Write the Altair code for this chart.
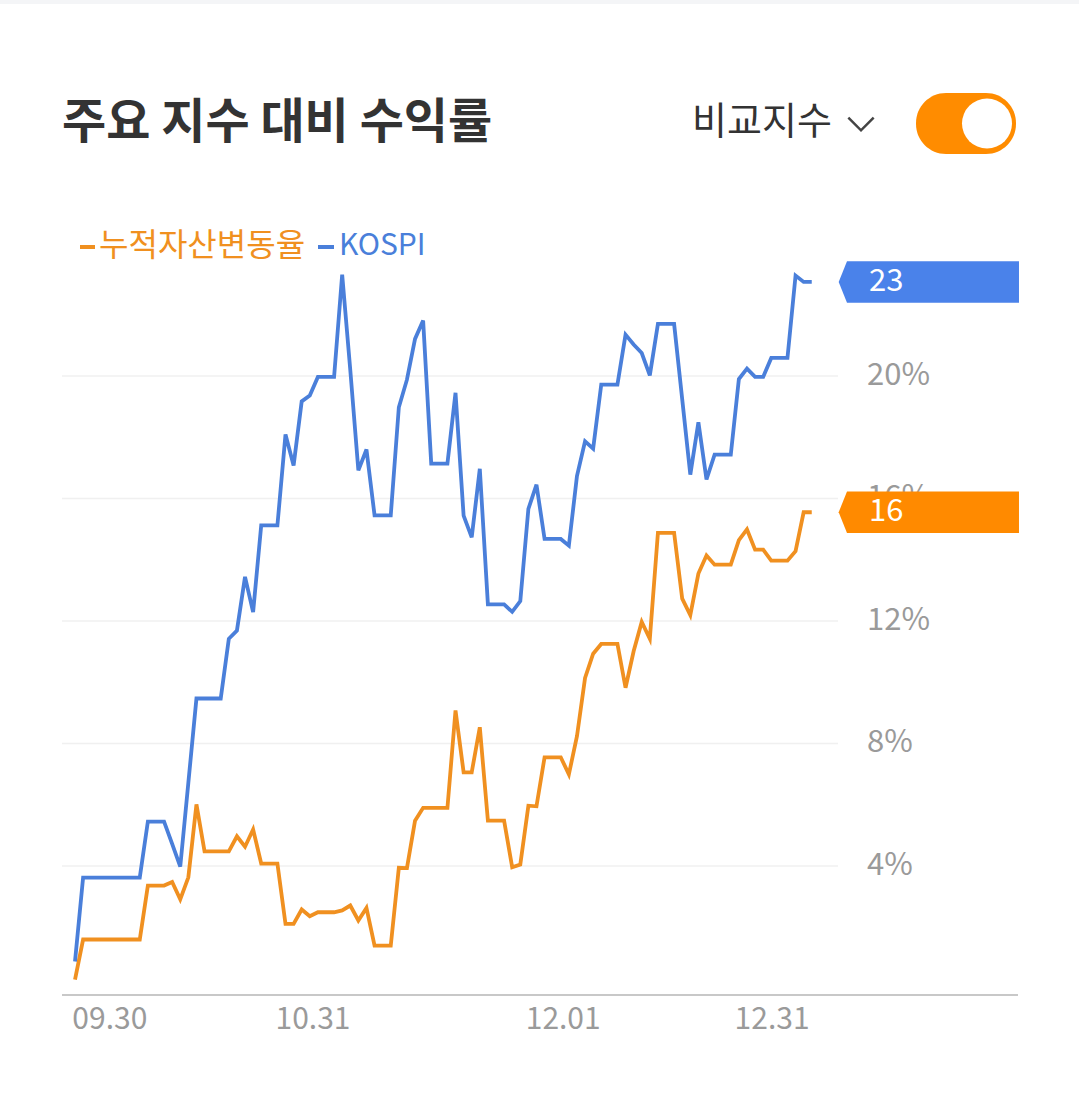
import altair as alt
import pandas as pd

# ---- data -------------------------------------------------------------
DAY = list(range(92))

ASSET = [
    0.29, 1.60, 1.60, 1.60, 1.60, 1.60, 1.60, 1.60, 1.60, 3.36,
    3.36, 3.36, 3.48, 2.91, 3.63, 6.01, 4.48, 4.48, 4.48, 4.48,
    4.97, 4.63, 5.19, 4.08, 4.08, 4.08, 2.11, 2.11, 2.58, 2.36,
    2.49, 2.49, 2.49, 2.55, 2.71, 2.22, 2.63, 1.40, 1.40, 1.40,
    3.94, 3.93, 5.48, 5.90, 5.90, 5.90, 5.90, 9.08, 7.06, 7.06,
    8.53, 5.48, 5.48, 5.48, 3.96, 4.05, 5.97, 5.95, 7.55, 7.55,
    7.55, 6.99, 8.24, 10.14, 10.93, 11.25, 11.25, 11.25, 9.82, 11.01,
    11.97, 11.42, 14.88, 14.88, 14.88, 12.73, 12.19, 13.55, 14.14, 13.84,
    13.84, 13.84, 14.64, 14.99, 14.33, 14.33, 13.97, 13.97, 13.97, 14.28,
    15.55, 15.55,
]

KOSPI = [
    0.88, 3.62, 3.62, 3.62, 3.62, 3.62, 3.62, 3.62, 3.62, 5.45,
    5.45, 5.45, 4.72, 3.98, 6.72, 9.47, 9.47, 9.47, 9.47, 11.42,
    11.69, 13.44, 12.29, 15.12, 15.12, 15.12, 18.09, 17.08, 19.17, 19.36,
    19.97, 19.97, 19.97, 23.31, 20.20, 16.92, 17.60, 15.45, 15.45, 15.45,
    18.98, 19.88, 21.21, 21.81, 17.14, 17.14, 17.14, 19.45, 15.44, 14.73,
    16.97, 12.54, 12.54, 12.54, 12.30, 12.65, 15.66, 16.45, 14.68, 14.68,
    14.68, 14.46, 16.73, 17.87, 17.63, 19.72, 19.72, 19.72, 21.35, 21.03,
    20.75, 20.02, 21.70, 21.70, 21.70, 19.24, 16.78, 18.49, 16.62, 17.43,
    17.43, 17.43, 19.90, 20.24, 19.97, 19.97, 20.59, 20.59, 20.59, 23.28,
    23.07, 23.07,
]

SERIES = ["누적자산변동율", "KOSPI"]
Y_TICKS = [4, 8, 12, 16, 20]
X_TICK_POS = [4.3, 29.4, 60.3, 86.1]
X_TICK_LABELS = ["09.30", "10.31", "12.01", "12.31"]

# ---- styling ------------------------------------------------------------
W, H = 1079, 1102
FONT = "Noto Sans CJK KR"
LINE_COLORS = ["#F09020", "#4A7FDA"]
TAG_COLORS = ["#FF8A00", "#4A82EA"]
GRAY = "#9A9A9A"
DARK = "#333333"

x_scale = alt.Scale(domain=[-9.264, 124.01], nice=False, zero=False)
y_scale = alt.Scale(domain=[-3.706, 32.277], nice=False, zero=False)

one = pd.DataFrame({"k": [0]})

lines_df = pd.DataFrame({
    "day": DAY * 2,
    "value": ASSET + KOSPI,
    "series": [SERIES[0]] * len(ASSET) + [SERIES[1]] * len(KOSPI),
})
last_df = pd.DataFrame({"series": SERIES, "value": [ASSET[-1], KOSPI[-1]]})
ytick_df = pd.DataFrame({"tick": Y_TICKS})
xtick_df = pd.DataFrame({"pos": X_TICK_POS, "label": X_TICK_LABELS})

# header strip
strip = alt.Chart(one).mark_rect(color="#F4F5F7").encode(
    x=alt.value(0), x2=alt.value(W), y=alt.value(0), y2=alt.value(4)
)

# title and compare-index selector
title = alt.Chart(one).mark_text(
    text="주요 지수 대비 수익률", font=FONT, fontSize=48, fontWeight="bold",
    color=DARK, align="left", baseline="middle"
).encode(x=alt.value(62), y=alt.value(124))

selector = alt.Chart(one).mark_text(
    text="비교지수", font=FONT, fontSize=38, color=DARK,
    align="left", baseline="middle"
).encode(x=alt.value(692), y=alt.value(123))

chevron = alt.Chart(one).mark_point(
    shape="M -1 -0.5 L 0 0.5 L 1 -0.5", size=640, filled=False,
    stroke="#444444", strokeWidth=2.5, opacity=1
).encode(x=alt.value(861), y=alt.value(124))

toggle = alt.Chart(one).mark_rect(color="#FF8C00", cornerRadius=30).encode(
    x=alt.value(916), x2=alt.value(1016), y=alt.value(93), y2=alt.value(154)
)
knob = alt.Chart(one).mark_point(
    shape="circle", size=2500, filled=True, color="white", opacity=1
).encode(x=alt.value(987), y=alt.value(123.5))

# legend
leg_o_dash = alt.Chart(one).mark_rule(color=LINE_COLORS[0], strokeWidth=4).encode(
    x=alt.value(80), x2=alt.value(95), y=alt.value(247)
)
leg_o_text = alt.Chart(one).mark_text(
    text=SERIES[0], font=FONT, fontSize=32, color=LINE_COLORS[0],
    align="left", baseline="middle"
).encode(x=alt.value(99), y=alt.value(246))
leg_b_dash = alt.Chart(one).mark_rule(color=LINE_COLORS[1], strokeWidth=4).encode(
    x=alt.value(318), x2=alt.value(334), y=alt.value(247)
)
leg_b_text = alt.Chart(one).mark_text(
    text=SERIES[1], font=FONT, fontSize=30, color=LINE_COLORS[1],
    align="left", baseline="middle"
).encode(x=alt.value(339), y=alt.value(246))

# grid, axis line and labels
grid = alt.Chart(ytick_df).mark_rule(color="#F0F0F0", strokeWidth=1.5).encode(
    x=alt.value(62), x2=alt.value(838),
    y=alt.Y("tick:Q", scale=y_scale, axis=None),
)
ylabels = alt.Chart(ytick_df).transform_calculate(
    label="datum.tick + '%'"
).mark_text(
    font=FONT, fontSize=31, color=GRAY, align="left", baseline="middle"
).encode(
    x=alt.value(867),
    y=alt.Y("tick:Q", scale=y_scale, axis=None),
    text="label:N",
)
baseline = alt.Chart(one).mark_rule(color="#C8C8C8", strokeWidth=2).encode(
    x=alt.value(62), x2=alt.value(1018), y=alt.value(995)
)
xlabels = alt.Chart(xtick_df).mark_text(
    font=FONT, fontSize=30, color=GRAY, align="center", baseline="middle"
).encode(
    x=alt.X("pos:Q", scale=x_scale, axis=None),
    y=alt.value(1020),
    text="label:N",
)

# series lines
lines = alt.Chart(lines_df).mark_line(strokeWidth=3.8).encode(
    x=alt.X("day:Q", scale=x_scale, axis=None),
    y=alt.Y("value:Q", scale=y_scale, axis=None),
    color=alt.Color("series:N", scale=alt.Scale(domain=SERIES, range=LINE_COLORS),
                    legend=None),
    order=alt.Order("day:Q"),
)

# last-value tags on the right
tags = alt.Chart(last_df).mark_point(
    shape="M -0.4 0 L 0 -1 L 8.27 -1 L 8.27 1 L 0 1 Z",
    size=1730, filled=True, opacity=1, strokeWidth=0,
).encode(
    x=alt.value(847),
    y=alt.Y("value:Q", scale=y_scale, axis=None),
    fill=alt.Fill("series:N", scale=alt.Scale(domain=SERIES, range=TAG_COLORS),
                  legend=None),
)
tag_text = alt.Chart(last_df).transform_calculate(
    label="format(datum.value, '.0f')"
).mark_text(
    font=FONT, fontSize=31, color="white", align="left", baseline="middle"
).encode(
    x=alt.value(869),
    y=alt.Y("value:Q", scale=y_scale, axis=None),
    text="label:N",
)

chart = alt.layer(
    strip, title, selector, chevron, toggle, knob,
    grid, ylabels, baseline, xlabels,
    lines, leg_o_dash, leg_o_text, leg_b_dash, leg_b_text,
    tags, tag_text,
).properties(
    width=W, height=H, padding=0,
    autosize=alt.AutoSizeParams(type="none"),
    background="white",
).configure_view(stroke=None)

chart.save("out.html", embed_options={"renderer": "svg", "actions": False})
